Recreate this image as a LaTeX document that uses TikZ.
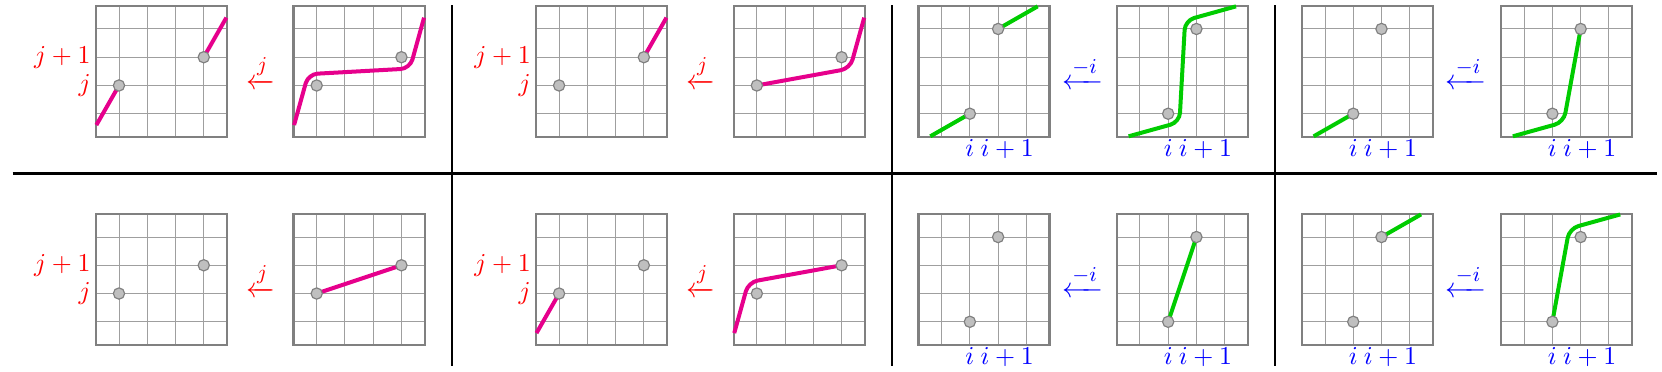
\documentclass[tikz,border=0pt]{standalone}
\usepackage{amsmath}
\definecolor{pinkc}{RGB}{230,0,140}
\definecolor{greenc}{RGB}{0,204,0}
\tikzset{
  gridline/.style={gray!75, line width=0.4pt},
  boxline/.style={gray, line width=0.9pt},
  pinkline/.style={pinkc, line width=1.7pt, rounded corners=4pt},
  greenline/.style={greenc, line width=1.7pt, rounded corners=4pt},
  dotnode/.style={circle, fill=gray!50, draw=gray, line width=0.5pt, minimum size=4.8pt, inner sep=0pt},
  sepline/.style={black, line width=1pt},
  rlabel/.style={red, anchor=east, inner sep=2pt},
  blabel/.style={blue, anchor=base, inner sep=0pt},
  rarrow/.style={red, anchor=base, inner sep=0pt, font=\fontsize{13}{15}\selectfont},
  barrow/.style={blue, anchor=base, inner sep=0pt, font=\fontsize{13}{15}\selectfont},
}
\newcommand{\gridbox}{%
  \foreach \k in {0,1,2,3}{\draw[gridline] (\k,-0.82) -- (\k,3.82); \draw[gridline] (-0.82,\k) -- (3.82,\k);}%
  \draw[boxline] (-0.82,-0.82) rectangle (3.82,3.82);%
  \coordinate (A) at (-0.8,-0.4);\coordinate (P) at (0,1);\coordinate (C1) at (-0.3,1.4);%
  \coordinate (C2) at (3.3,1.6);\coordinate (Q) at (3,2);\coordinate (B) at (3.8,3.4);%
  \coordinate (Ag) at (-0.4,-0.8);\coordinate (Pg) at (1,0);\coordinate (C1g) at (1.4,-0.3);%
  \coordinate (C2g) at (1.6,3.3);\coordinate (Qg) at (2,3);\coordinate (Bg) at (3.4,3.8);%
}
\newcommand{\jdots}{\node[dotnode] (dP) at (P) {};\node[dotnode] (dQ) at (Q) {};}
\newcommand{\idots}{\node[dotnode] (dPg) at (Pg) {};\node[dotnode] (dQg) at (Qg) {};}
\newcommand{\jlabels}{\node[rlabel] (lj1) at (-0.82,2) {$j+1$};\node[rlabel] (lj) at (-0.82,1) {$j$};}
\newcommand{\ilabels}{\node[blabel] (li) at (1,-1.52) {$i$};\node[blabel, anchor=base west] (li1) at (1.36,-1.52) {$i+1$};}
\newcommand{\jarrow}{\node[rarrow] (aj) at (5.0,0.86) {$\xleftarrow{j}$};}
\newcommand{\iarrow}{\node[barrow] (ai) at (5.0,0.86) {$\xleftarrow{-i}$};}
\begin{document}
\begin{tikzpicture}[x=12pt,y=12pt,font=\fontsize{10.8}{13}\selectfont]
\useasboundingbox (0,0) rectangle (58.83,-13.133);
% separators
\coordinate (h1) at (0.45,-6.15); \coordinate (h2) at (58.65,-6.15);
\draw[sepline, line width=1.2pt] (h1) -- (h2);
\foreach \xx/\nm in {16.0/v1,31.58/v2,45.13/v3}{
  \coordinate (\nm t) at (\xx,-0.18); \coordinate (\nm b) at (\xx,-12.95);
  \draw[sepline] (\nm t) -- (\nm b);
}
% ---------- top row ----------
\begin{scope}[shift={(4.212,-4.025)}]
  \gridbox
  \draw[pinkline] (A) -- (P); \draw[pinkline] (Q) -- (B);
  \jdots \jlabels \jarrow
\end{scope}
\begin{scope}[shift={(11.21,-4.025)}]
  \gridbox
  \draw[pinkline] (A) -- (C1) -- (C2) -- (B);
  \jdots
\end{scope}
\begin{scope}[shift={(19.79,-4.025)}]
  \gridbox
  \draw[pinkline] (Q) -- (B);
  \jdots \jlabels \jarrow
\end{scope}
\begin{scope}[shift={(26.79,-4.025)}]
  \gridbox
  \draw[pinkline] (P) -- (C2) -- (B);
  \jdots
\end{scope}
\begin{scope}[shift={(33.33,-4.025)}]
  \gridbox
  \draw[greenline] (Ag) -- (Pg); \draw[greenline] (Qg) -- (Bg);
  \idots \ilabels \iarrow
\end{scope}
\begin{scope}[shift={(40.35,-4.025)}]
  \gridbox
  \draw[greenline] (Ag) -- (C1g) -- (C2g) -- (Bg);
  \idots \ilabels
\end{scope}
\begin{scope}[shift={(46.90,-4.025)}]
  \gridbox
  \draw[greenline] (Ag) -- (Pg);
  \idots \ilabels \iarrow
\end{scope}
\begin{scope}[shift={(53.95,-4.025)}]
  \gridbox
  \draw[greenline] (Ag) -- (C1g) -- (Qg);
  \idots \ilabels
\end{scope}
% ---------- bottom row ----------
\begin{scope}[shift={(4.212,-11.39)}]
  \gridbox
  \jdots \jlabels \jarrow
\end{scope}
\begin{scope}[shift={(11.21,-11.39)}]
  \gridbox
  \draw[pinkline] (P) -- (Q);
  \jdots
\end{scope}
\begin{scope}[shift={(19.79,-11.39)}]
  \gridbox
  \draw[pinkline] (A) -- (P);
  \jdots \jlabels \jarrow
\end{scope}
\begin{scope}[shift={(26.79,-11.39)}]
  \gridbox
  \draw[pinkline] (A) -- (C1) -- (Q);
  \jdots
\end{scope}
\begin{scope}[shift={(33.33,-11.39)}]
  \gridbox
  \idots \ilabels \iarrow
\end{scope}
\begin{scope}[shift={(40.35,-11.39)}]
  \gridbox
  \draw[greenline] (Pg) -- (Qg);
  \idots \ilabels
\end{scope}
\begin{scope}[shift={(46.90,-11.39)}]
  \gridbox
  \draw[greenline] (Qg) -- (Bg);
  \idots \ilabels \iarrow
\end{scope}
\begin{scope}[shift={(53.95,-11.39)}]
  \gridbox
  \draw[greenline] (Pg) -- (C2g) -- (Bg);
  \idots \ilabels
\end{scope}
\end{tikzpicture}
\end{document}
